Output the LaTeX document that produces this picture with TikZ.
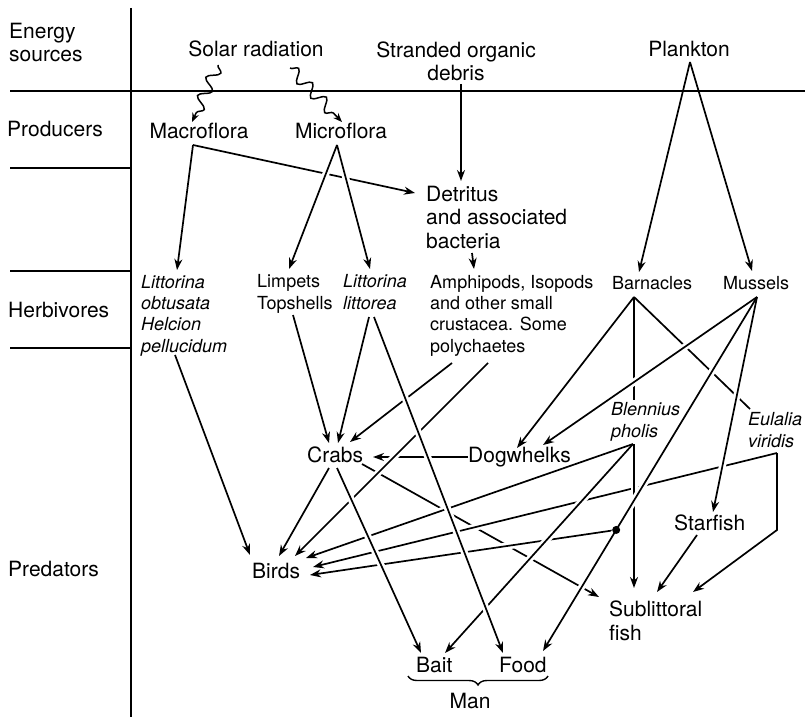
\documentclass[tikz,border=0pt]{standalone}
\usepackage{fontspec}
\setmainfont{TeX Gyre Heros}
\usetikzlibrary{calc,arrows.meta,decorations.pathmorphing,decorations.pathreplacing,backgrounds}

\begin{document}
\begin{tikzpicture}[
  x=1pt, y=-1pt,
  big/.style={font=\fontsize{21}{23.5}\selectfont, inner sep=0pt, anchor=base west, align=left},
  small/.style={font=\fontsize{18}{21.3}\selectfont, inner sep=0pt, anchor=base west, align=left},
  ital/.style={small, font=\fontsize{18}{21.3}\selectfont\itshape},
  link/.style={line width=1.7pt, -{Stealth[length=11pt,width=8pt]},
    preaction={draw=white, line width=7pt, arrows=-, shorten <=14pt, shorten >=14pt}},
  bare/.style={link, arrows=-},
  wave/.style={line width=1.5pt, -{Stealth[length=9pt,width=7pt]}, decorate,
    decoration={snake, amplitude=6pt, segment length=20pt, post length=9pt}},
  frame/.style={line width=1.6pt}
]
\useasboundingbox (0,0) rectangle (805,719);

% row labels (multi-line nodes sit on their last baseline)
\node[big] (energy) at (9,62) {Energy\\sources};
\node[big] (prod) at (7,137) {Producers};
\node[big] (herb) at (8,317) {Herbivores};
\node[big] (pred) at (8,576) {Predators};

% energy sources and producers
\node[big, anchor=base] (solar) at (256,57) {Solar radiation};
\node[big, anchor=base, align=center] (debris) at (456,81) {Stranded organic\\debris};
\node[big, anchor=base] (plankton) at (689,57) {Plankton};
\node[big, anchor=base] (macro) at (199,139) {Macroflora};
\node[big, anchor=base] (micro) at (341,139) {Microflora};
\node[big] (detritus) at (426,248) {Detritus\\and associated\\bacteria};

% herbivores
\node[ital] (littob) at (141,352) {Littorina\\obtusata\\Helcion\\pellucidum};
\node[small] (limpets) at (257,309) {Limpets\\Topshells};
\node[ital] (littlit) at (343,309) {Littorina\\littorea};
\node[small] (amphi) at (430,352) {Amphipods, Isopods\\and other small\\crustacea. Some\\polychaetes};
\node[small] (barn) at (612,289) {Barnacles};
\node[small] (muss) at (723,289) {Mussels};

% predators
\node[ital] (blen) at (611,437) {Blennius\\pholis};
\node[ital] (eula) at (748,447) {Eulalia\\viridis};
\node[big] (crabs) at (307,462) {Crabs};
\node[big] (dog) at (468,462) {Dogwhelks};
\node[big] (star) at (674,530) {Starfish};
\node[big] (birds) at (252,578) {Birds};
\node[big] (subfish) at (609,640) {Sublittoral\\fish};
\node[big] (bait) at (416,672) {Bait};
\node[big] (food) at (499,672) {Food};
\node[big, anchor=base] (man) at (470,708) {Man};

\coordinate (jn) at ($([shift={(34,8)}]muss.base west)!0.658!([shift={(44,-21)}]food.base west)$);

\begin{scope}[on background layer]
% lowest links, broken where others cross
\draw[link] ([shift={(55,2)}]crabs.base west) -- ([shift={(-10,-43)}]subfish.base west);
\draw[link] (jn) -- ([shift={(58,-3)}]birds.base west);
\draw[link] ([shift={(0,-5)}]dog.base west) -- ([shift={(66,-5)}]crabs.base west);
\draw[link] ([shift={(-6,6)}]macro.base) -- ([shift={(-11,-55)}]detritus.base west);
\draw[bare] ([shift={(22,8)}]barn.base west) -- ([shift={(2,-38)}]eula.base west);
\draw[link] ([shift={(29,6)}]eula.base west) -- ([shift={(61,-11)}]birds.base west);
% middle
\draw[bare] ([shift={(22,8)}]barn.base west) -- ([shift={(23,-37)}]blen.base west);
\draw[link] ([shift={(22,7)}]blen.base west) -- ([shift={(54,-20)}]birds.base west);
\draw[link] ([shift={(23,7)}]blen.base west) -- ([shift={(25,-52)}]subfish.base west);
\draw[link] ([shift={(22,11)}]amphi.base west) -- ([shift={(43,-20)}]crabs.base west);
\draw[link] ([shift={(58,11)}]amphi.base west) -- ([shift={(43,-22)}]birds.base west);
% top
\draw[link] ([shift={(-6,6)}]macro.base) -- ([shift={(36,-82)}]littob.base west);
\draw[link] ([shift={(-4,6)}]micro.base) -- ([shift={(32,-40)}]limpets.base west);
\draw[link] ([shift={(-4,6)}]micro.base) -- ([shift={(27,-40)}]littlit.base west);
\draw[link] ([shift={(5,3)}]debris.base) -- ([shift={(35,-67)}]detritus.base west);
\draw[link] ([shift={(46,5)}]detritus.base west) -- ([shift={(44,-83)}]amphi.base west);
\draw[link] ([shift={(1,5)}]plankton.base) -- ([shift={(27,-17)}]barn.base west);
\draw[link] ([shift={(1,5)}]plankton.base) -- ([shift={(29,-18)}]muss.base west);
\draw[link] ([shift={(34,3)}]littob.base west) -- ([shift={(-2,-23)}]birds.base west);
\draw[link] ([shift={(36,6)}]limpets.base west) -- ([shift={(22,-19)}]crabs.base west);
\draw[link] ([shift={(26,8)}]littlit.base west) -- ([shift={(31,-19)}]crabs.base west);
\draw[link] ([shift={(22,6)}]crabs.base west) -- ([shift={(27,-22)}]birds.base west);
\draw[link] ([shift={(22,8)}]barn.base west) -- ([shift={(49,-14)}]dog.base west);
\draw[link] ([shift={(34,8)}]muss.base west) -- ([shift={(75,-17)}]dog.base west);
\draw[link] ([shift={(34,8)}]muss.base west) -- ([shift={(39,-18)}]star.base west);
\draw[link] ([shift={(34,8)}]muss.base west) -- ([shift={(44,-21)}]food.base west);
\draw[link] ([shift={(22,7)}]blen.base west) -- ([shift={(29,-19)}]bait.base west);
\draw[link] ([shift={(30,6)}]crabs.base west) -- ([shift={(5,-19)}]bait.base west);
\draw[link] ([shift={(31,8)}]littlit.base west) -- ([shift={(4,-19)}]food.base west);
\draw[link] ([shift={(23,5)}]star.base west) -- ([shift={(48,-48)}]subfish.base west);
\draw[link] ([shift={(29,6)}]eula.base west) -- ([shift={(29,83)}]eula.base west) -- ([shift={(84,-48)}]subfish.base west);
\fill (jn) circle (4pt);
% sunlight
\draw[wave] ([shift={(-38,8)}]solar.base) -- ([shift={(-7,-17)}]macro.base);
\draw[wave] ([shift={(34,11)}]solar.base) -- ([shift={(1,-17)}]micro.base);
% frame
\draw[frame] (131,8) -- (131,717);
\draw[frame] (10,91) -- (805,91);
\draw[frame] (10,168) -- (131,168);
\draw[frame] (10,271) -- (131,271);
\draw[frame] (10,348) -- (131,348);
% man
\draw[line width=1.4pt, decorate, decoration={brace, mirror, amplitude=9pt}]
  ([shift={(-8,4)}]bait.base west) -- ([shift={(49,4)}]food.base west);
\end{scope}
\end{tikzpicture}
\end{document}
